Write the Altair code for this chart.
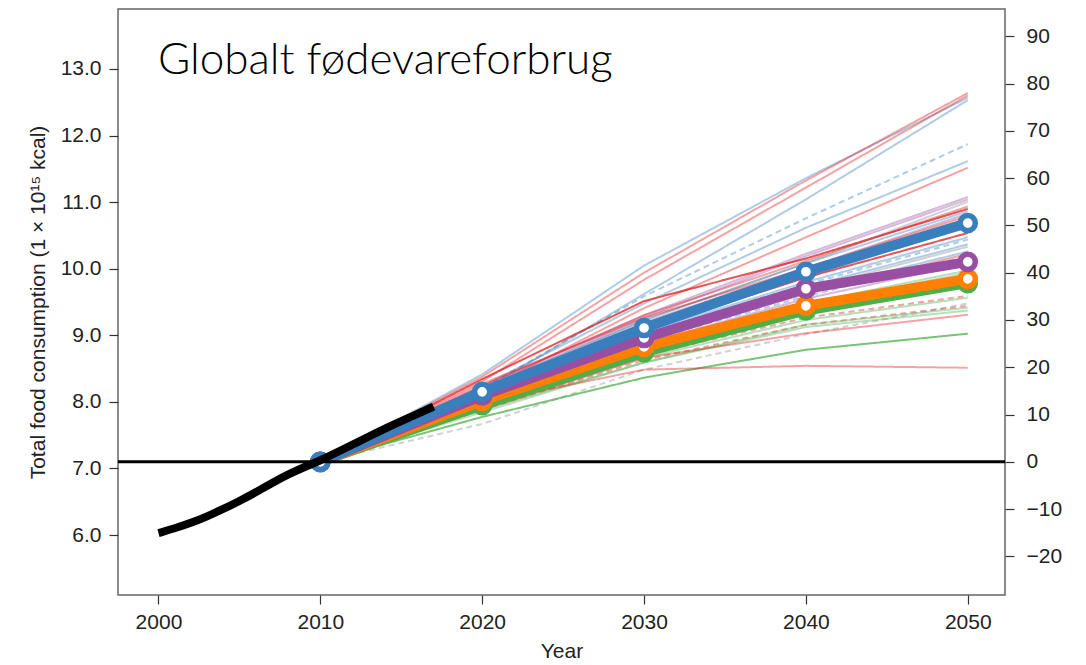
import altair as alt
import pandas as pd

# Baseline (2010) global food consumption, 1e15 kcal; right axis is % change from it
BASE_2010 = 7.1

# Observed history
hist_years = list(range(2000, 2018))
hist_kcal = [6.03, 6.10, 6.18, 6.28, 6.39, 6.51, 6.64, 6.78, 6.91, 7.02,
             7.12, 7.24, 7.36, 7.48, 7.60, 7.71, 7.82, 7.93]

# Projection years
proj_years = [2010, 2020, 2030, 2040, 2050]

# Individual model projections: % change vs 2010 at 2020, 2030, 2040, 2050
scen_colors = [
    "blue", "red", "red", "blue", "blue", "blue", "red",
    "purple", "purple", "red", "gray", "red", "blue", "purple", "red", "gray",
    "blue", "red", "red", "purple", "blue", "blue", "blue", "gray", "blue",
    "red", "blue", "purple", "green", "orange", "gray",
    "red", "green", "red", "green", "gray", "green", "red", "green", "red",
]
scen_dashed = [
    0, 0, 0, 0, 1, 0, 0,
    0, 0, 0, 0, 0, 0, 0, 0, 0,
    0, 0, 0, 0, 0, 1, 0, 0, 0,
    0, 1, 0, 0, 0, 0,
    1, 0, 1, 0, 1, 0, 0, 0, 0,
]
scen_strong = [
    0, 0, 0, 0, 0, 0, 0,
    0, 0, 1, 0, 0, 0, 0, 0, 0,
    0, 1, 0, 0, 0, 0, 0, 0, 0,
    0, 0, 0, 0, 0, 0,
    0, 0, 0, 0, 0, 0, 0, 1, 0,
]
scen_pct = [
    [18.5, 41.5, 60.0, 77.0],
    [18.0, 40.0, 59.5, 78.0],
    [17.0, 38.5, 58.0, 77.5],
    [15.0, 35.5, 55.5, 76.5],
    [15.5, 35.0, 51.5, 67.2],
    [16.0, 33.5, 49.5, 63.6],
    [15.0, 32.5, 47.5, 62.2],
    [16.0, 31.0, 44.0, 56.0],
    [15.5, 30.5, 43.5, 55.5],
    [17.5, 34.0, 43.0, 53.5],
    [15.0, 30.0, 42.0, 55.0],
    [16.0, 31.0, 42.5, 54.0],
    [15.5, 30.0, 42.0, 53.0],
    [15.0, 29.5, 41.0, 52.5],
    [16.5, 30.5, 41.0, 52.0],
    [14.5, 29.0, 40.5, 51.5],
    [15.0, 29.0, 40.0, 51.0],
    [14.5, 28.0, 39.0, 48.4],
    [15.0, 28.5, 39.5, 50.0],
    [14.0, 28.0, 39.0, 50.0],
    [14.0, 27.5, 38.0, 47.5],
    [13.5, 27.0, 37.5, 47.0],
    [13.5, 26.5, 37.0, 46.0],
    [13.0, 26.5, 36.5, 45.5],
    [13.0, 26.0, 36.0, 44.5],
    [13.5, 26.0, 35.5, 44.0],
    [12.5, 25.5, 35.0, 43.5],
    [13.0, 25.0, 34.5, 42.0],
    [12.5, 24.5, 33.5, 40.5],
    [12.5, 24.0, 33.0, 39.5],
    [12.0, 24.0, 33.0, 40.0],
    [11.5, 22.5, 30.5, 35.1],
    [11.5, 22.0, 30.0, 34.7],
    [11.0, 21.5, 29.0, 33.0],
    [11.0, 21.0, 29.0, 32.6],
    [8.0, 19.5, 27.0, 33.5],
    [10.5, 21.0, 28.5, 32.0],
    [11.0, 22.0, 27.2, 31.1],
    [9.5, 17.8, 23.7, 27.1],
    [12.5, 19.5, 20.3, 19.9],
]

# Highlighted multi-model means: % change vs 2010 at 2010..2050
mean_names = ["green", "orange", "purple", "blue"]
mean_pct = [
    [0.0, 12.0, 23.2, 32.0, 37.8],
    [0.0, 12.9, 24.3, 33.0, 38.7],
    [0.0, 14.0, 26.2, 36.6, 42.3],
    [0.0, 14.8, 28.3, 40.2, 50.5],
]

palette = {
    "blue": "#3a7fbd",
    "red": "#e41a1c",
    "purple": "#984ea3",
    "green": "#4daf4a",
    "orange": "#ff7f00",
    "gray": "#8c8c8c",
}

AXIS_FONT = "Liberation Sans"
AXIS_SIZE = 21


def to_kcal(p):
    return BASE_2010 * (1 + p / 100.0)


rows = []
for i, (c, d, s, vals) in enumerate(zip(scen_colors, scen_dashed, scen_strong, scen_pct)):
    for yr, p in zip(proj_years, [0.0] + vals):
        rows.append({
            "id": i, "year": yr, "kcal": to_kcal(p),
            "color": palette[c],
            "dash": "dashed" if d else "solid",
            "alpha": 0.75 if s else 0.4,
        })
scen_df = pd.DataFrame(rows)

hist_df = pd.DataFrame({"year": hist_years, "kcal": hist_kcal})

x_scale = alt.Scale(domain=[1997.5, 2052.3], nice=False, zero=False)
y_scale = alt.Scale(domain=[5.1, 13.9], nice=False, zero=False)
pct_scale = alt.Scale(domain=[(5.1 / BASE_2010 - 1) * 100, (13.9 / BASE_2010 - 1) * 100],
                      nice=False, zero=False)

axis_style = dict(
    domain=False, grid=False, tickColor="#333333", tickSize=9, tickWidth=1.2,
    labelFont=AXIS_FONT, labelFontSize=AXIS_SIZE, labelColor="#222222",
    titleFont=AXIS_FONT, titleFontSize=AXIS_SIZE, titleColor="#222222",
    titleFontWeight="normal",
)

x_enc = alt.X("year:Q", scale=x_scale,
              axis=alt.Axis(values=[2000, 2010, 2020, 2030, 2040, 2050], format="d",
                            title="Year", titlePadding=8, labelPadding=7, **axis_style))
y_axis = alt.Axis(values=[6, 7, 8, 9, 10, 11, 12, 13], format=".1f",
                  title="Total food consumption (1 × 10¹⁵ kcal)",
                  titlePadding=12, labelPadding=8, **axis_style)

thin = alt.Chart(scen_df).mark_line(strokeWidth=2).encode(
    x=x_enc,
    y=alt.Y("kcal:Q", scale=y_scale, axis=y_axis),
    detail="id:N",
    color=alt.Color("color:N", scale=None),
    opacity=alt.Opacity("alpha:Q", scale=None),
    strokeDash=alt.StrokeDash("dash:N", scale=alt.Scale(domain=["solid", "dashed"],
                                                        range=[[1, 0], [6, 4]]),
                              legend=None),
)

mean_layers = []
for name, vals in zip(mean_names, mean_pct):
    df = pd.DataFrame({"year": proj_years, "kcal": [to_kcal(p) for p in vals]})
    col = palette[name]
    base = alt.Chart(df).encode(x=alt.X("year:Q", scale=x_scale),
                                y=alt.Y("kcal:Q", scale=y_scale))
    mean_layers.append(base.mark_line(color=col, strokeWidth=10))
    mean_layers.append(base.mark_point(shape="circle", fill="white", stroke=col,
                                       strokeWidth=5.5, size=230, opacity=1, filled=False))

hist = alt.Chart(hist_df).mark_line(color="black", strokeWidth=8, interpolate="basis").encode(
    x=alt.X("year:Q", scale=x_scale),
    y=alt.Y("kcal:Q", scale=y_scale),
)

zero_rule = alt.Chart(pd.DataFrame({"kcal": [BASE_2010]})).mark_rule(
    color="black", strokeWidth=3).encode(y=alt.Y("kcal:Q", scale=y_scale))

title_text = alt.Chart(pd.DataFrame({"t": ["Globalt fødevareforbrug"]})).mark_text(
    font="Lato", fontSize=44, fontWeight=300, align="left", baseline="alphabetic",
    color="black",
).encode(x=alt.value(40), y=alt.value(65), text="t:N")

left = alt.layer(thin, *mean_layers, zero_rule, hist, title_text)

right = alt.Chart(pd.DataFrame({"year": proj_years, "pct": mean_pct[3]})).mark_point(
    opacity=0).encode(
    x=alt.X("year:Q", scale=x_scale),
    y=alt.Y("pct:Q", scale=pct_scale,
            axis=alt.Axis(orient="right", values=list(range(-20, 100, 10)), format="d",
                          title=None, labelPadding=12, **axis_style)),
)

chart = alt.layer(left, right).resolve_scale(y="independent").properties(
    width=887, height=586,
    autosize=alt.AutoSizeParams(type="none"),
    padding={"left": 118, "top": 9, "right": 81, "bottom": 70},
).configure_view(
    stroke="#666666", strokeWidth=1.5,
)

chart.save("out.html", embed_options={"renderer": "svg", "actions": False})
